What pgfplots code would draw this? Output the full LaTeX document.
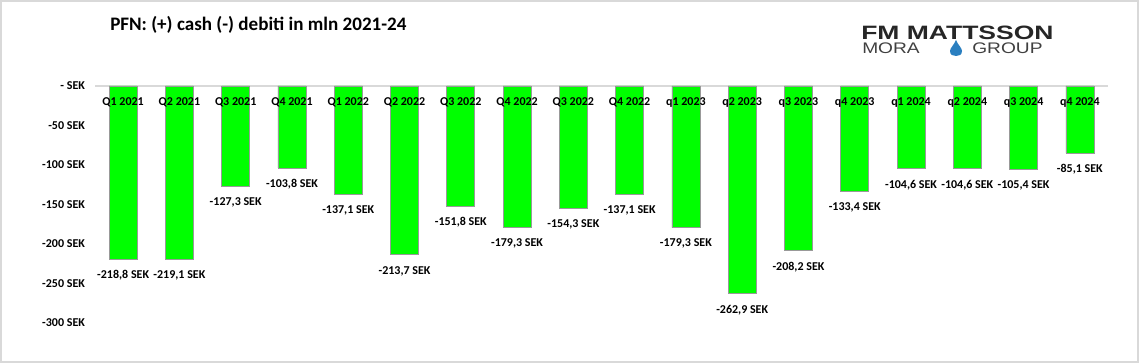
\documentclass[border=0pt]{standalone}
\usepackage{pgfplots}
\pgfplotsset{compat=1.18}
\usepackage{fontspec}
\setmainfont{Carlito}
\newfontfamily\logofont{Liberation Sans}
\definecolor{barg}{HTML}{00FF00}
\definecolor{frame}{HTML}{D9D9D9}
\definecolor{drop}{HTML}{2A7FC0}
\begin{document}
\begin{tikzpicture}[x=0.75pt,y=0.75pt]
\useasboundingbox (0,0) rectangle (1139,363);
\draw[color=frame, line width=1.5pt] (1,1) rectangle (1138,362);
% title
\node[anchor=base west, inner sep=0pt, font=\bfseries\fontsize{14.3}{16}\selectfont] at (110,332) {PFN: (+) cash (-) debiti in mln 2021-24};
% logo
\node[anchor=base west, inner sep=0pt, font=\logofont\bfseries\fontsize{14.5}{16}\selectfont, text=black!85] at (861,323) {\scalebox{1.37}[1]{FM MATTSSON}};
\node[anchor=base west, inner sep=0pt, font=\logofont\fontsize{11.5}{13}\selectfont, text=black!75] at (862,309) {\scalebox{1.25}[1]{MORA}};
\node[anchor=base west, inner sep=0pt, font=\logofont\fontsize{11.5}{13}\selectfont, text=black!75] at (972,309) {\scalebox{1.25}[1]{GROUP}};
\fill[drop] (956,323) .. controls (954,318) and (950,315) .. (950,312) .. controls (950,308) and (953,307) .. (956,307) .. controls (959,307) and (962,308) .. (962,312) .. controls (962,315) and (958,318) .. (956,323) -- cycle;
\begin{axis}[
  at={(71.25pt,30pt)}, anchor=south west,
  scale only axis, width=759.75pt, height=177.75pt,
  ybar, bar width=21pt,
  xmin=-0.5, xmax=17.5, ymin=-300, ymax=0,
  axis line style={draw=none},
  axis on top,
  major tick length=0pt,
  xtick={0,...,17},
  xticklabels={Q1 2021,Q2 2021,Q3 2021,Q4 2021,Q1 2022,Q2 2022,Q3 2022,Q4 2022,Q3 2022,Q4 2022,q1 2023,q2 2023,q3 2023,q4 2023,q1 2024,q2 2024,q3 2024,q4 2024},
  xticklabel pos=upper,
  xticklabel style={anchor=north, yshift=-5pt, font=\bfseries\fontsize{9}{10}\selectfont},
  ytick={-300,-250,-200,-150,-100,-50,0},
  yticklabels={-300 SEK,-250 SEK,-200 SEK,-150 SEK,-100 SEK,-50 SEK,- SEK},
  yticklabel style={font=\bfseries\fontsize{9}{10}\selectfont, xshift=-4pt},
  /pgf/number format/assume math mode=true,
  nodes near coords={\pgfmathprintnumber[fixed,fixed zerofill,precision=1,use comma]{\pgfplotspointmeta}~SEK},
  every node near coord/.append style={font=\bfseries\fontsize{9}{10}\selectfont, text=black, yshift=-5pt},
  clip=false,
]
\draw[frame, line width=1.5pt] (rel axis cs:0,1) -- (rel axis cs:1,1);
\addplot[fill=barg, draw=gray!80, line width=0.5pt] coordinates {
(0,-218.8) (1,-219.1) (2,-127.3) (3,-103.8) (4,-137.1) (5,-213.7)
(6,-151.8) (7,-179.3) (8,-154.3) (9,-137.1) (10,-179.3) (11,-262.9)
(12,-208.2) (13,-133.4) (14,-104.6) (15,-104.6) (16,-105.4) (17,-85.1)
};
\end{axis}
\end{tikzpicture}
\end{document}
